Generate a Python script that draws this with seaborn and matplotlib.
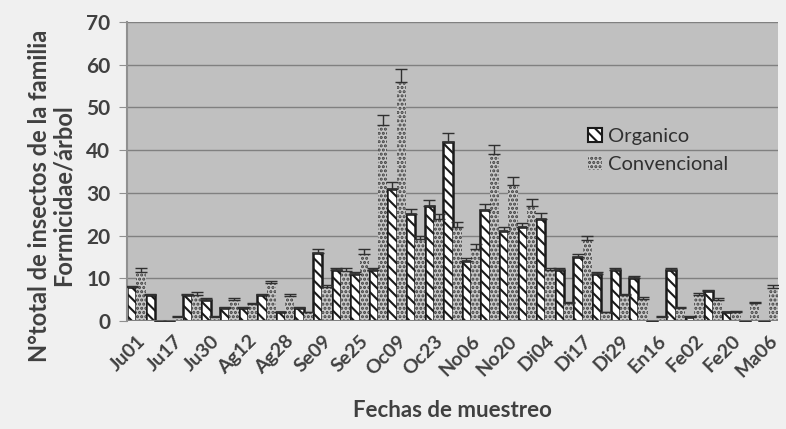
import numpy as np
import pandas as pd
import matplotlib
matplotlib.use("Agg")
import matplotlib.pyplot as plt
from matplotlib.patches import Patch
import seaborn as sns

# fechas de muestreo (solo una de cada dos aparece en el eje)
fechas = ["Ju01", "Ju09", "Ju17", "Ju24", "Ju30", "Ag05", "Ag12", "Ag20", "Ag28", "Se02",
          "Se09", "Se17", "Se25", "Oc01", "Oc09", "Oc16", "Oc23", "Oc30", "No06", "No13",
          "No20", "No27", "Di04", "Di11", "Di17", "Di23", "Di29", "En07", "En16", "En24",
          "Fe02", "Fe11", "Fe20", "Fe27", "Ma06"]

organico = [8, 6, 0, 6, 5, 3, 3, 6, 2, 3, 16, 12, 11, 12, 31, 25, 27, 42, 14, 26,
            21, 22, 24, 12, 15, 11, 12, 10, 0, 12, 1, 7, 2, 0, 0]
organico_err = [0.3, 0.3, 0, 0.3, 0.3, 0.2, 0.2, 0.3, 0.2, 0.3, 0.8, 0.5, 0.4, 0.5, 1.6,
                1.2, 1.4, 1.9, 0.7, 1.4, 0.9, 1.0, 1.2, 0.5, 0.8, 0.5, 0.5, 0.5, 0, 0.5,
                0.2, 0.3, 0.2, 0, 0]
convencional = [11.5, 0, 1, 6, 1, 5, 4, 8.8, 5.8, 2, 8, 11.7, 15.6, 45.8, 56, 19.1, 23.8,
                21.9, 16.8, 39, 31.8, 26.9, 11.9, 4.2, 19, 2, 6.1, 5.2, 1, 3, 6.2, 5, 2,
                4.2, 7.7]
convencional_err = [1, 0, 0.1, 0.7, 0.1, 0.4, 0.3, 0.6, 0.5, 0.2, 0.4, 0.8, 1.2, 2.4, 3,
                    0.8, 1.3, 1.3, 1.2, 2.1, 1.9, 1.6, 0.6, 0.2, 1, 0.2, 0.3, 0.4, 0.2,
                    0.3, 0.3, 0.4, 0.3, 0.3, 0.8]

df = pd.DataFrame({
    "fecha": fechas * 2,
    "valor": organico + convencional,
    "tipo": ["Organico"] * len(fechas) + ["Convencional"] * len(fechas),
})

plt.rcParams["font.family"] = ["Lato", "DejaVu Sans"]
plt.rcParams["hatch.linewidth"] = 1.5

fig = plt.figure(figsize=(7.86, 4.29), dpi=100, facecolor="#f0f0f0")
ax = fig.add_axes([0.1616, 0.2517, 0.8282, 0.697])
ax.set_facecolor("#c0c0c0")

sns.barplot(data=df, x="fecha", y="valor", hue="tipo", order=fechas,
            hue_order=["Organico", "Convencional"], width=1.0, gap=0,
            ax=ax, legend=False, errorbar=None)

conv_face, conv_hatch = "#c8c8c8", "#404040"
org_bars, conv_bars = ax.containers[0], ax.containers[1]
for p, v in zip(org_bars, organico):
    p.set_facecolor("white")
    p.set_edgecolor("#1a1a1a")
    p.set_hatch("\\\\\\")
    p.set_linewidth(1.8 if v > 0 else 0)
for p in conv_bars:
    p.set_facecolor(conv_face)
    p.set_edgecolor(conv_hatch)
    p.set_hatch("....")
    p.set_linewidth(0)

for bars, vals, errs in [(org_bars, organico, organico_err),
                         (conv_bars, convencional, convencional_err)]:
    xs = [p.get_x() + p.get_width() / 2 for p in bars]
    ax.errorbar(xs, vals, yerr=[np.zeros(len(errs)), errs], fmt="none",
                ecolor="#303030", elinewidth=1, capsize=4, capthick=1, zorder=3)

ax.set_ylim(0, 70)
ax.set_xlim(-0.5, len(fechas) - 0.5)
ax.set_yticks(range(0, 71, 10))
ax.yaxis.grid(True, color="#808080", linewidth=1)
ax.set_axisbelow(True)
for s in ["top", "right", "bottom"]:
    ax.spines[s].set_visible(False)
ax.spines["left"].set_color("#909090")
ax.spines["left"].set_linewidth(1.5)
ax.axhline(0, color="#808080", linewidth=1.5, zorder=1)

ax.set_xticks(range(0, len(fechas), 2))
ax.set_xticklabels(fechas[::2], rotation=45, ha="right", rotation_mode="anchor",
                   fontsize=14, fontweight="bold", color="#404040")
ax.tick_params(axis="x", length=0, pad=8)
ax.tick_params(axis="y", length=6, color="#909090", labelsize=15, labelcolor="#404040",
               pad=6)
for t in ax.get_yticklabels():
    t.set_fontweight("bold")

ax.set_xlabel("Fechas de muestreo", fontsize=16, fontweight="bold", color="#404040",
              labelpad=14)
ax.set_ylabel("N°total de insectos de la familia\nFormicidae/árbol", fontsize=17,
              fontweight="bold", color="#404040", linespacing=1.05)
ax.yaxis.set_label_coords(-0.08, 0.42)

handles = [Patch(facecolor="white", edgecolor="#1a1a1a", hatch="\\\\\\", linewidth=1.5),
           Patch(facecolor=conv_face, edgecolor=conv_hatch, hatch="....", linewidth=0)]
leg = ax.legend(handles, ["Organico", "Convencional"], loc="upper left",
                bbox_to_anchor=(0.68, 0.705), frameon=False, fontsize=14.5,
                handlelength=0.7, handleheight=0.7, handletextpad=0.3, labelspacing=0.5)
for t in leg.get_texts():
    t.set_color("#303030")

fig.savefig("out.png", dpi=100, facecolor=fig.get_facecolor())
